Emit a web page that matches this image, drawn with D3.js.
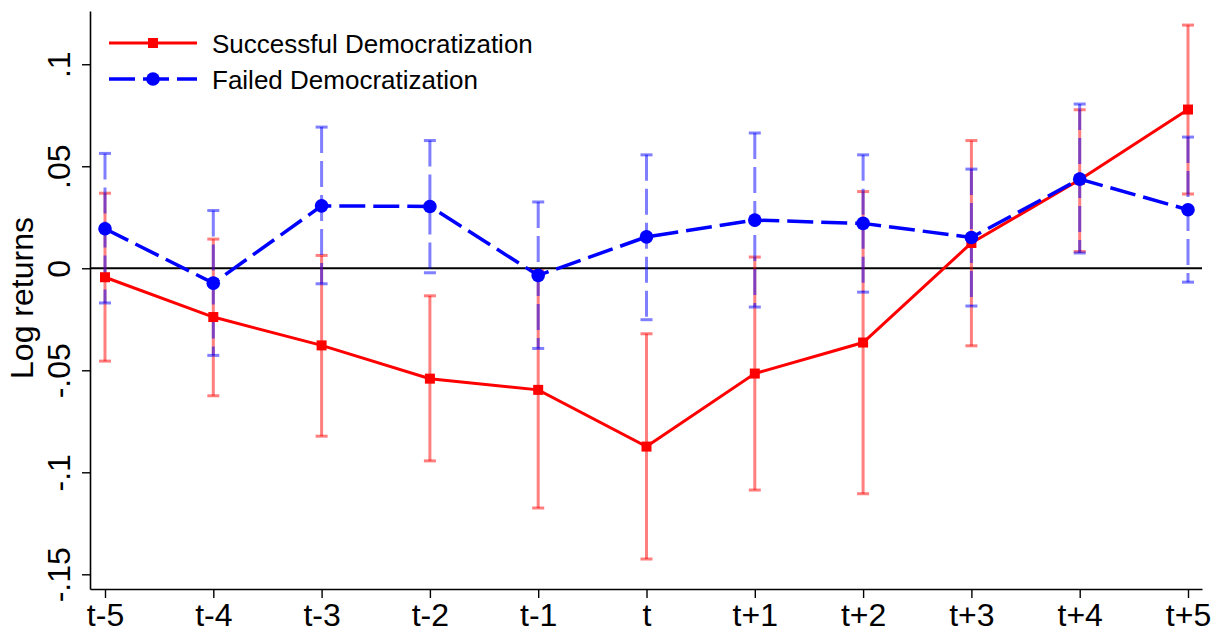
<!DOCTYPE html>
<html>
<head>
<meta charset="utf-8">
<script src="https://cdn.jsdelivr.net/npm/d3@7"></script>
<style>
  body { margin: 0; background: #fff; }
  text { font-family: "Liberation Sans", Arial, Helvetica, sans-serif; fill: #000; }
</style>
</head>
<body>
<div id="chart-area"></div>
<script>
// event-time periods
var periods = ["t-5", "t-4", "t-3", "t-2", "t-1", "t", "t+1", "t+2", "t+3", "t+4", "t+5"];
var offsets = [-5, -4, -3, -2, -1, 0, 1, 2, 3, 4, 5];

// successful democratization: point estimate + CI
var successful   = [-0.0044, -0.0239, -0.0378, -0.0541, -0.0596, -0.0874, -0.0516, -0.0364, 0.0124, 0.0434, 0.0778];
var successfulLo = [-0.0455, -0.0625, -0.0823, -0.0944, -0.1175, -0.1425, -0.1087, -0.1105, -0.0380, 0.0082, 0.0364];
var successfulHi = [0.0368, 0.0143, 0.0063, -0.0135, -0.0012, -0.0321, 0.0055, 0.0376, 0.0626, 0.0777, 0.1192];

// failed democratization
var failed   = [0.0194, -0.0073, 0.0306, 0.0303, -0.0035, 0.0154, 0.0236, 0.0220, 0.0151, 0.0437, 0.0287];
var failedLo = [-0.0170, -0.0427, -0.0076, -0.0022, -0.0393, -0.0252, -0.0190, -0.0117, -0.0185, 0.0075, -0.0068];
var failedHi = [0.0563, 0.0283, 0.0692, 0.0626, 0.0325, 0.0556, 0.0663, 0.0556, 0.0486, 0.0805, 0.0643];

var yTicks = [0.1, 0.05, 0, -0.05, -0.1, -0.15];
var yTickLabels = [".1", ".05", "0", "-.05", "-.1", "-.15"];

var width = 1222, height = 633;

var svg = d3.select("#chart-area")
    .append("svg")
    .attr("width", width)
    .attr("height", height);

var x = d3.scaleLinear()
    .domain([-5 - 15 / 108.3, 5 + 14 / 108.3])
    .range([90, 1202]);

var y = d3.scaleLinear()
    .domain([-0.1572, 0.1261])
    .range([589, 11]);

// axes
var xAxisCall = d3.axisBottom(x)
    .tickValues(offsets)
    .tickSize(9)
    .tickSizeOuter(0)
    .tickFormat(function(d, i){ return periods[i]; });

var xg = svg.append("g")
    .attr("class", "x axis")
    .attr("transform", "translate(0," + y.range()[0] + ")")
    .call(xAxisCall);
xg.select(".domain").attr("stroke", "#000").attr("stroke-width", 1.6);
xg.selectAll(".tick line").attr("stroke", "#000").attr("stroke-width", 1.4);
xg.selectAll(".tick text")
    .attr("y", 14)
    .attr("dy", "0.71em")
    .attr("font-size", "32px");

var yAxisCall = d3.axisLeft(y)
    .tickValues(yTicks)
    .tickSize(8)
    .tickSizeOuter(0)
    .tickFormat(function(d, i){ return yTickLabels[i]; });

var yg = svg.append("g")
    .attr("class", "y axis")
    .attr("transform", "translate(" + x.range()[0] + ",0)")
    .call(yAxisCall);
yg.select(".domain").attr("stroke", "#000").attr("stroke-width", 1.6);
yg.selectAll(".tick line").attr("stroke", "#000").attr("stroke-width", 1.4);
yg.selectAll(".tick text")
    .attr("x", 0)
    .attr("y", 0)
    .attr("dy", 0)
    .attr("font-size", "32px")
    .attr("text-anchor", "middle")
    .attr("transform", "translate(-20,0) rotate(-90)");

svg.append("text")
    .attr("class", "y axis-label")
    .attr("x", -298)
    .attr("y", 33)
    .attr("font-size", "32px")
    .attr("text-anchor", "middle")
    .attr("transform", "rotate(-90)")
    .text("Log returns");

// zero reference line
svg.append("line")
    .attr("x1", x.range()[0])
    .attr("x2", x.range()[1])
    .attr("y1", y(0))
    .attr("y2", y(0))
    .attr("stroke", "#000")
    .attr("stroke-width", 2.2);

function drawCI(lo, hi, color, dashed){
    var g = svg.append("g").attr("opacity", 1);
    offsets.forEach(function(t, i){
        var cx = x(t);
        g.append("line")
            .attr("x1", cx).attr("x2", cx)
            .attr("y1", y(hi[i])).attr("y2", y(lo[i]))
            .attr("stroke", color)
            .attr("stroke-opacity", 0.5)
            .attr("stroke-width", 3)
            .attr("stroke-dasharray", dashed ? "26,8" : null);
        [hi[i], lo[i]].forEach(function(v){
            g.append("line")
                .attr("x1", cx - 6).attr("x2", cx + 6)
                .attr("y1", y(v)).attr("y2", y(v))
                .attr("stroke", color)
                .attr("stroke-opacity", 0.5)
                .attr("stroke-width", 3);
        });
    });
}

drawCI(successfulLo, successfulHi, "#ff0000", false);
drawCI(failedLo, failedHi, "#0000ff", true);

var line = d3.line()
    .x(function(d){ return x(d[0]); })
    .y(function(d){ return y(d[1]); });

// successful line + squares
svg.append("path")
    .datum(offsets.map(function(t, i){ return [t, successful[i]]; }))
    .attr("d", line)
    .attr("fill", "none")
    .attr("stroke", "#ff0000")
    .attr("stroke-width", 3);

svg.selectAll("rect.succ")
    .data(successful)
    .enter()
    .append("rect")
    .attr("class", "succ")
    .attr("x", function(d, i){ return x(offsets[i]) - 5; })
    .attr("y", function(d){ return y(d) - 5; })
    .attr("width", 10)
    .attr("height", 10)
    .attr("fill", "#ff0000");

// failed line + circles
svg.append("path")
    .datum(offsets.map(function(t, i){ return [t, failed[i]]; }))
    .attr("d", line)
    .attr("fill", "none")
    .attr("stroke", "#0000ff")
    .attr("stroke-width", 3.5)
    .attr("stroke-dasharray", "26,8");

svg.selectAll("circle.fail")
    .data(failed)
    .enter()
    .append("circle")
    .attr("class", "fail")
    .attr("cx", function(d, i){ return x(offsets[i]); })
    .attr("cy", function(d){ return y(d); })
    .attr("r", 6.8)
    .attr("fill", "#0000ff");

// legend
var legend = svg.append("g").attr("class", "legend");

legend.append("line")
    .attr("x1", 109).attr("x2", 197)
    .attr("y1", 43).attr("y2", 43)
    .attr("stroke", "#ff0000")
    .attr("stroke-width", 3);
legend.append("rect")
    .attr("x", 148).attr("y", 38)
    .attr("width", 10).attr("height", 10)
    .attr("fill", "#ff0000");
legend.append("text")
    .attr("x", 212).attr("y", 52.5)
    .attr("font-size", "26px")
    .text("Successful Democratization");

legend.append("line")
    .attr("x1", 109).attr("x2", 197)
    .attr("y1", 79).attr("y2", 79)
    .attr("stroke", "#0000ff")
    .attr("stroke-width", 3.5)
    .attr("stroke-dasharray", "26,8");
legend.append("circle")
    .attr("cx", 153).attr("cy", 79)
    .attr("r", 6.8)
    .attr("fill", "#0000ff");
legend.append("text")
    .attr("x", 212).attr("y", 88.5)
    .attr("font-size", "26px")
    .text("Failed Democratization");
</script>
</body>
</html>
